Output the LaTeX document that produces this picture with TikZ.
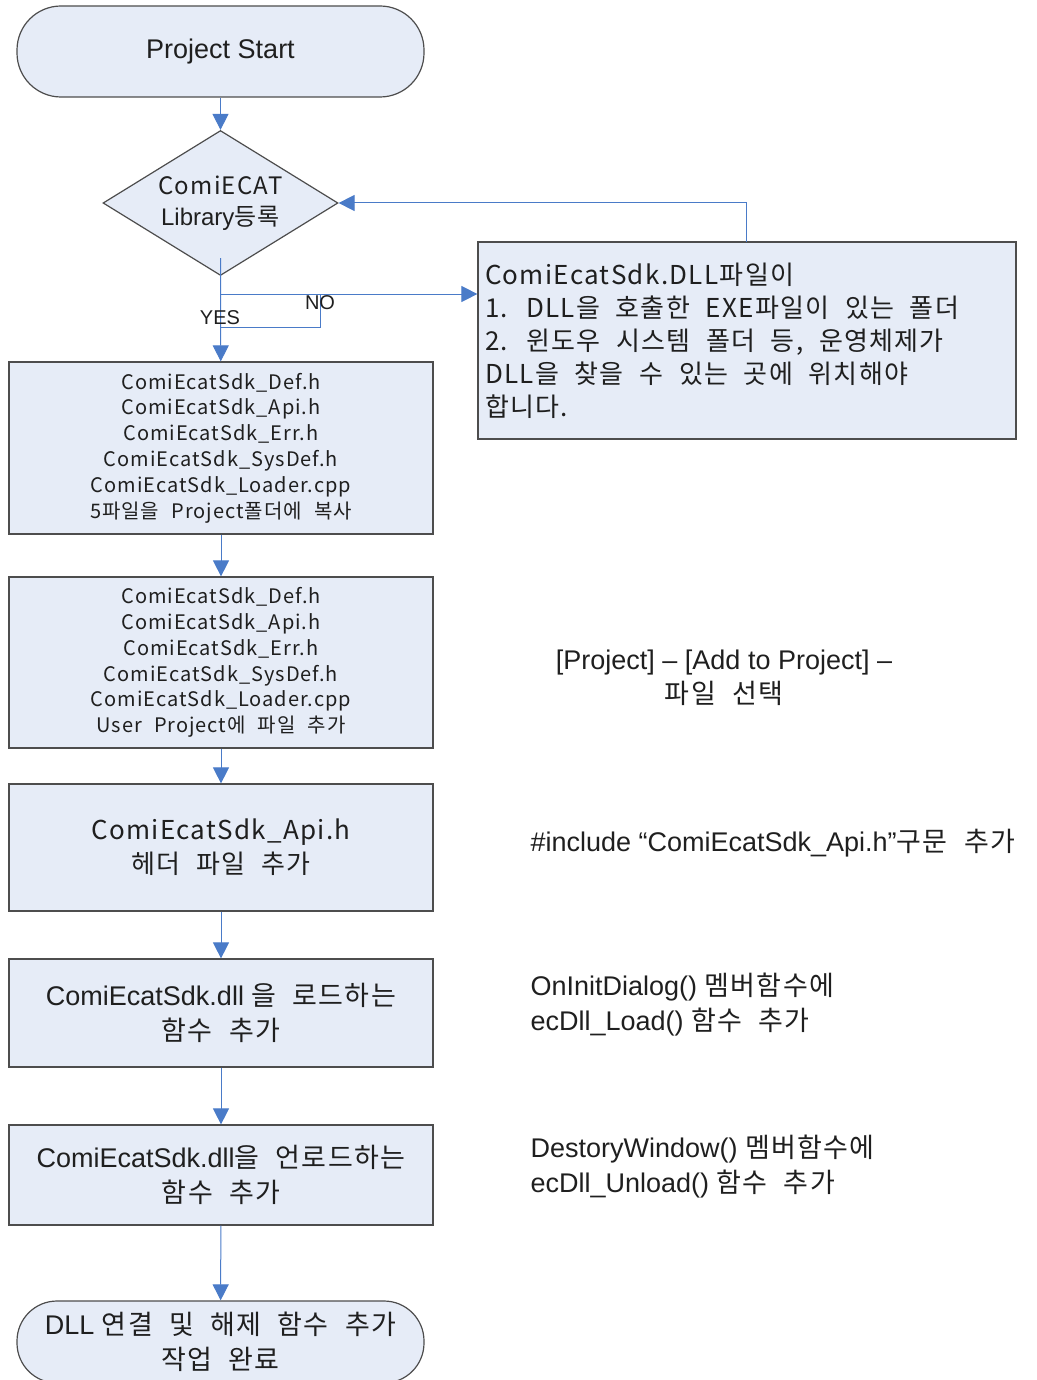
\documentclass[tikz,border=0pt]{standalone}
\usepackage{fontspec}
\setmainfont{Liberation Sans}
\newfontfamily\kr[LetterSpace=5,WordSpace=2.2]{Noto Sans CJK KR}
\usetikzlibrary{shapes.geometric,arrows.meta}
\definecolor{boxfill}{HTML}{E6ECF7}
\definecolor{flowblue}{HTML}{4A7BC8}
\definecolor{edge}{HTML}{4D4D4D}
\newcommand{\fs}[2]{\fontsize{#1}{#2}\selectfont}

\begin{document}
\begin{tikzpicture}[x=1pt, y=-1pt, text=black!88,
  term/.style = {draw=edge, line width=1.2pt, fill=boxfill, rounded corners=44pt, minimum width=407pt, minimum height=91pt, align=center},
  decision/.style = {draw=edge, line width=1.2pt, fill=boxfill, diamond, aspect=1.62, minimum width=235pt, minimum height=145pt, inner sep=0pt, align=center},
  proc/.style = {draw=edge, line width=1.2pt, fill=boxfill, minimum width=424pt, inner sep=0pt, align=center},
  flow/.style = {draw=flowblue, line width=1pt},
  arr/.style = {flow, -{Triangle[width=16pt,length=16pt]}}]
\useasboundingbox (0,0) rectangle (1036,1380);

\node[term, font=\fs{27}{34}] (start) at (220.5,51.5) {Project Start};
\node[decision, font=\fs{24}{31}] (lib) at (220.5,203) {{\kr ComiECAT}\\Library{\kr 등록}};
\node[proc, minimum height=172pt, font=\kr\fs{20}{25.8}] (copy) at (221,448) {ComiEcatSdk\_Def.h\\ComiEcatSdk\_Api.h\\ComiEcatSdk\_Err.h\\ComiEcatSdk\_SysDef.h\\ComiEcatSdk\_Loader.cpp\\5파일을 Project폴더에 복사};
\node[proc, minimum height=171pt, font=\kr\fs{20}{25.8}] (addf) at (221,662.5) {ComiEcatSdk\_Def.h\\ComiEcatSdk\_Api.h\\ComiEcatSdk\_Err.h\\ComiEcatSdk\_SysDef.h\\ComiEcatSdk\_Loader.cpp\\User Project에 파일 추가};
\node[proc, minimum height=127pt, font=\kr\fs{26}{34}] (head) at (221,847.5) {ComiEcatSdk\_Api.h\\헤더 파일 추가};
\node[proc, minimum height=108pt, font=\fs{27}{35}] (load) at (221,1013) {ComiEcatSdk.dll {\kr 을 로드하는}\\{\kr 함수 추가}};
\node[proc, minimum height=100pt, font=\fs{27}{35}] (unload) at (221,1175) {ComiEcatSdk.dll{\kr 을 언로드하는}\\{\kr 함수 추가}};
\node[term, minimum height=82pt, rounded corners=40pt, font=\fs{27}{35}] (done) at (220.5,1342) {DLL {\kr 연결 및 해제 함수 추가}\\{\kr 작업 완료}};

\node[draw=edge, line width=1.2pt, fill=boxfill, minimum width=538pt, minimum height=197pt, inner sep=7pt, align=left, font=\kr\fs{26}{33}] (dll) at (747,340.5) {\makebox[524pt][l]{ComiEcatSdk.DLL파일이}\\1. DLL을 호출한 EXE파일이 있는 폴더\\2. 윈도우 시스템 폴더 등, 운영체제가\\DLL을 찾을 수 있는 곳에 위치해야\\합니다.};

% notes beside the steps
\node[align=center, font=\fs{27}{34}] (menu) at (724,678) {[Project] – [Add to Project] –\\{\kr 파일 선택}};
\node[anchor=west, font=\fs{27}{34}] (inc) at (527,843) {\#include “ComiEcatSdk\_Api.h”{\kr 구문 추가}};
\node[anchor=west, align=left, font=\fs{27}{35}] (init) at (527,1005) {OnInitDialog() {\kr 멤버함수에}\\ecDll\_Load() {\kr 함수 추가}};
\node[anchor=west, align=left, font=\fs{27}{35}] (destroy) at (527,1167) {DestoryWindow() {\kr 멤버함수에}\\ecDll\_Unload() {\kr 함수 추가}};

\coordinate (yn) at (220.5,294);
\coordinate (nob) at (320,327);
\coordinate (fb) at (746,242);

\draw[arr] (start) -- (lib);
\draw[arr] ([yshift=18pt]lib.south) -- (copy);
\draw[arr] (yn) -- (yn -| dll.west);
\draw[flow] (yn) -| (nob) -- (nob -| lib.south);
\draw[arr] (fb) |- (lib.east);
\draw[arr] (copy) -- (addf);
\draw[arr] (addf) -- (head);
\draw[arr] (head) -- (load);
\draw[arr] (load) -- (unload);
\draw[arr] (unload) -- (done);

\node[font=\fs{20}{24}] (yes) at (220,318) {YES};
\node[font=\fs{20}{24}] (no) at (320,303) {NO};
\end{tikzpicture}
\end{document}
